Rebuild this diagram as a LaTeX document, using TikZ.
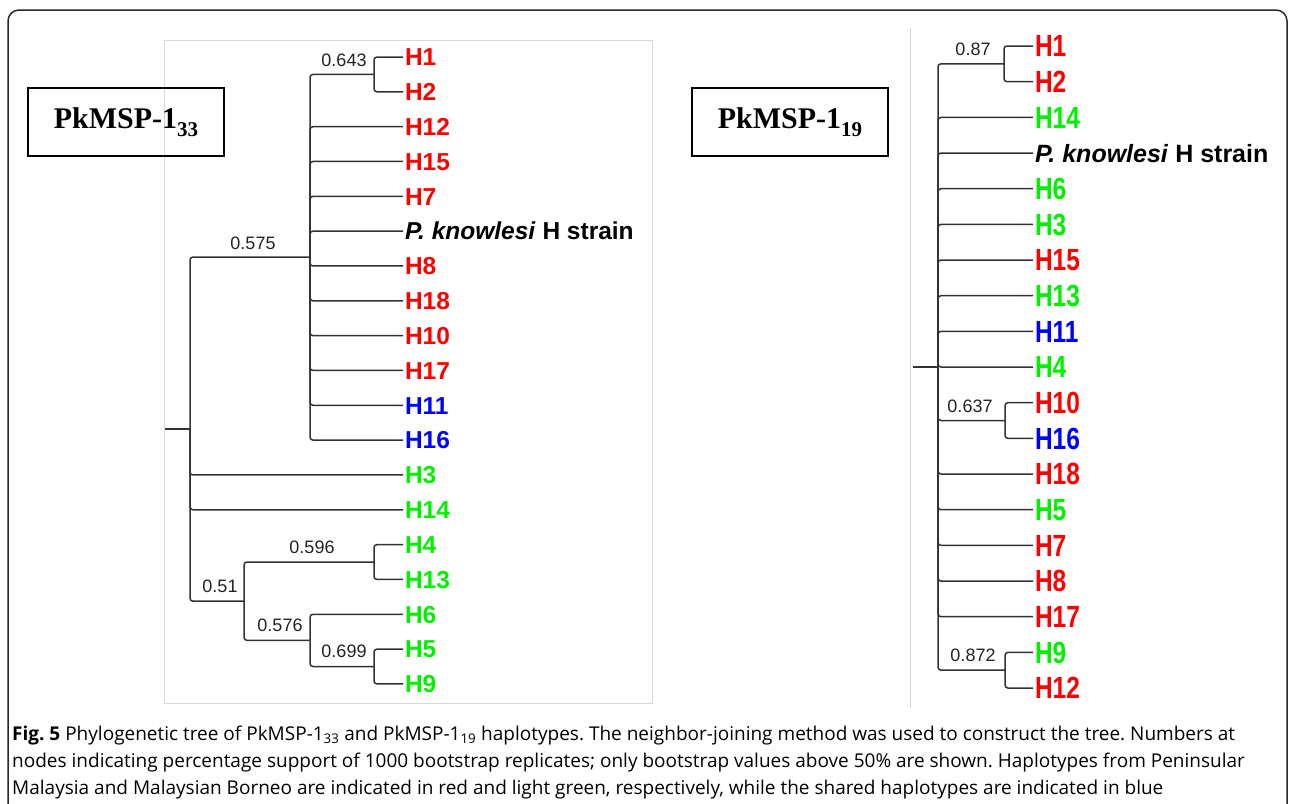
\documentclass[tikz,border=0pt]{standalone}
\usepackage{fontspec}
\newfontfamily\labfont{Liberation Sans}
\newfontfamily\boxfont{Liberation Serif}
\newfontfamily\capfont{Open Sans}
\definecolor{hred}{RGB}{255,0,0}
\definecolor{hgreen}{RGB}{0,240,0}
\definecolor{hblue}{RGB}{0,0,255}
\definecolor{brc}{RGB}{50,50,50}
\definecolor{numc}{RGB}{35,35,35}
\definecolor{framec}{RGB}{40,40,40}
\definecolor{panelc}{RGB}{215,215,215}
\newcommand{\tall}[1]{\scalebox{1}[1.25]{#1}}
\tikzset{
  leaf/.style={anchor=west, inner sep=0pt, outer sep=0pt, text height=17.5pt, text depth=0pt,
    font=\labfont\bfseries\fontsize{24.5}{24.5}\selectfont},
  rleaf/.style={leaf, text height=21.8pt},
  rpk/.style={leaf, font=\labfont\bfseries\fontsize{25}{25}\selectfont, text height=18pt},
  branch/.style={draw=brc, line width=1.5pt, rounded corners=3pt},
  bsv/.style={font=\labfont\fontsize{18}{18}\selectfont, text=numc, inner sep=0pt},
  titlebox/.style={draw=black, line width=1.5pt, minimum width=196pt, minimum height=68pt,
    font=\boxfont\bfseries\fontsize{30}{30}\selectfont},
  capline/.style={anchor=base west, inner sep=0pt, font=\capfont\fontsize{19}{19}\selectfont}
}
\begin{document}
\begin{tikzpicture}[x=1pt,y=-1pt]
\useasboundingbox (0,0) rectangle (1290,803);
\clip (0,0) rectangle (1290,803);
% outer frame
\draw[framec, line width=1.5pt, rounded corners=11pt] (8,840) -- (8,10) -- (1287,10) -- (1287,840);
% panels
\draw[panelc, line width=0.8pt] (164,40) rectangle (652,703);
\draw[panelc, line width=0.8pt] (910,28) -- (910,708);
% title boxes
\node[titlebox] (t33) at (126,122) {PkMSP-1\raisebox{-0.28em}{\fontsize{21}{21}\selectfont 33}};
\node[titlebox] (t19) at (790,122) {PkMSP-1\raisebox{-0.28em}{\fontsize{21}{21}\selectfont 19}};

% ===== left tree =====
\foreach \n/\t/\c [count=\i from 0] in {
  H1/H1/hred, H2/H2/hred, H12/H12/hred, H15/H15/hred, H7/H7/hred,
  Pk/{\textit{P. knowlesi} H strain}/black, H8/H8/hred, H18/H18/hred, H10/H10/hred,
  H17/H17/hred, H11/H11/hblue, H16/H16/hblue, H3/H3/hgreen, H14/H14/hgreen,
  H4/H4/hgreen, H13/H13/hgreen, H6/H6/hgreen, H5/H5/hgreen, H9/H9/hgreen}
  \node[leaf, text=\c] (L\n) at (405, {57+34.83*\i}) {\t};

\coordinate (Lroot) at (190,429);
\coordinate (Lstub) at (165,429);
\coordinate (LA) at (310,257);
\coordinate (L12) at (374,74.4);
\coordinate (L51) at (244,601.2);
\coordinate (L413) at (374,562);
\coordinate (L576) at (310,640.4);
\coordinate (L59) at (374,666.5);

\draw[branch] (Lstub) -- (Lroot);
\draw[branch] (Lroot) |- (LA);
\draw[branch] (Lroot) |- ([xshift=-2pt]LH3.west);
\draw[branch] (Lroot) |- ([xshift=-2pt]LH14.west);
\draw[branch] (Lroot) |- (L51);
\draw[branch] (LA) |- (L12);
\foreach \n in {H12,H15,H7,Pk,H8,H18,H10,H17,H11,H16}
  \draw[branch] (LA) |- ([xshift=-2pt]L\n.west);
\draw[branch] (L12) |- ([xshift=-2pt]LH1.west);
\draw[branch] (L12) |- ([xshift=-2pt]LH2.west);
\draw[branch] (L51) |- (L413);
\draw[branch] (L51) |- (L576);
\draw[branch] (L413) |- ([xshift=-2pt]LH4.west);
\draw[branch] (L413) |- ([xshift=-2pt]LH13.west);
\draw[branch] (L576) |- ([xshift=-2pt]LH6.west);
\draw[branch] (L576) |- (L59);
\draw[branch] (L59) |- ([xshift=-2pt]LH5.west);
\draw[branch] (L59) |- ([xshift=-2pt]LH9.west);

\node[bsv] (bL12) at (344,60) {0.643};
\node[bsv] (bLA) at (253,243) {0.575};
\node[bsv] (bL413) at (312,547) {0.596};
\node[bsv] (bL51) at (220,586) {0.51};
\node[bsv] (bL576) at (280,625) {0.576};
\node[bsv] (bL59) at (344,651) {0.699};

% ===== right tree =====
\foreach \n/\c [count=\i from 0] in {
  H1/hred, H2/hred, H14/hgreen, Pk/black,
  H6/hgreen, H3/hgreen, H15/hred, H13/hgreen, H11/hblue,
  H4/hgreen, H10/hred, H16/hblue, H18/hred, H5/hgreen,
  H7/hred, H8/hred, H17/hred, H9/hgreen, H12/hred}
  {\ifnum\i=3
     \node[rpk, text=\c] (R\n) at (1035, {46+35.67*\i}) {\textit{P. knowlesi} H strain};
   \else
     \node[rleaf, text=\c] (R\n) at (1035, {46+35.67*\i}) {\tall{\n}};
   \fi}

\coordinate (Rroot) at (938,367);
\coordinate (Rstub) at (913,367);
\coordinate (R12) at (1004,63.8);
\coordinate (R1016) at (1005,420.5);
\coordinate (R912) at (1005,670.2);

\draw[branch] (Rstub) -- (Rroot);
\draw[branch] (Rroot) |- (R12);
\draw[branch] (Rroot) |- (R912);
\draw[branch] (Rroot) |- (R1016);
\foreach \n in {H14,Pk,H6,H3,H15,H13,H11,H4,H18,H5,H7,H8,H17}
  \draw[branch] (Rroot) |- ([xshift=-2pt]R\n.west);
\draw[branch] (R12) |- ([xshift=-2pt]RH1.west);
\draw[branch] (R12) |- ([xshift=-2pt]RH2.west);
\draw[branch] (R1016) |- ([xshift=-2pt]RH10.west);
\draw[branch] (R1016) |- ([xshift=-2pt]RH16.west);
\draw[branch] (R912) |- ([xshift=-2pt]RH9.west);
\draw[branch] (R912) |- ([xshift=-2pt]RH12.west);

\node[bsv] (bR12) at (973,49) {0.87};
\node[bsv] (bR1016) at (970,406) {0.637};
\node[bsv] (bR912) at (973,655) {0.872};

% ===== caption =====
\node[capline] (c1) at (12,740) {\frenchspacing\textbf{Fig. 5} Phylogenetic tree of PkMSP-1\textsubscript{33} and PkMSP-1\textsubscript{19} haplotypes. The neighbor-joining method was used to construct the tree. Numbers at};
\node[capline] (c2) at (12,767) {\frenchspacing nodes indicating percentage support of 1000 bootstrap replicates; only bootstrap values above 50\% are shown. Haplotypes from Peninsular};
\node[capline] (c3) at (12,794) {\frenchspacing Malaysia and Malaysian Borneo are indicated in red and light green, respectively, while the shared haplotypes are indicated in blue};
\end{tikzpicture}
\end{document}
